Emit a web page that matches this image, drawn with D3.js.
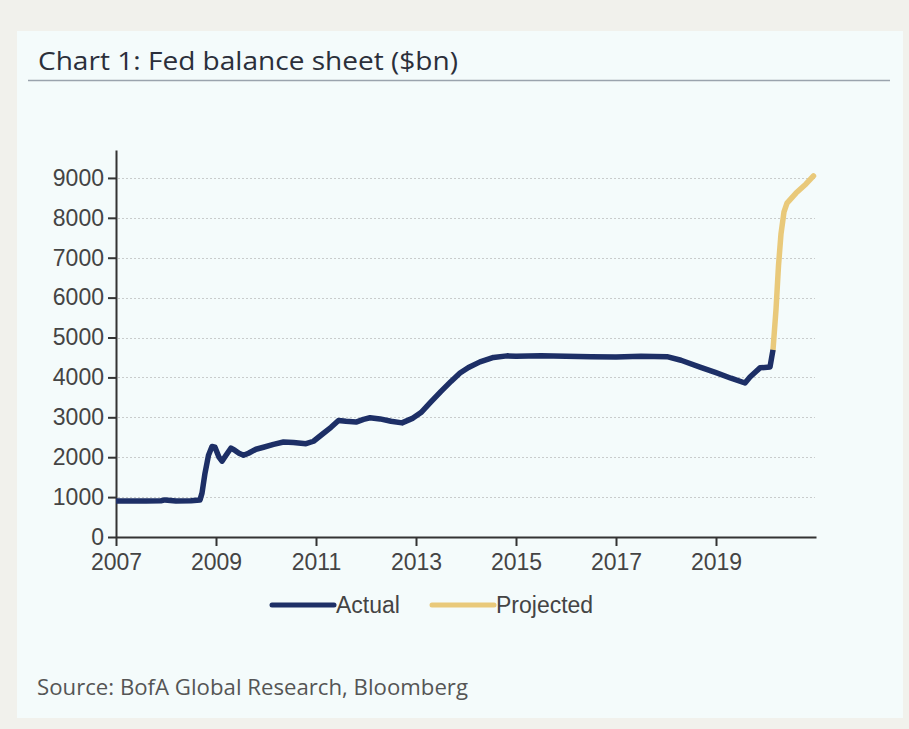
<!DOCTYPE html>
<html>
<head>
<meta charset="utf-8">
<script src="https://cdn.jsdelivr.net/npm/d3@7"></script>
<style>
  html, body { margin: 0; padding: 0; background: #f1f1ec; }
  svg { display: block; }
</style>
</head>
<body>
<script>
// Fed balance sheet, $bn, by decimal year
const actualYears = [2007.00, 2007.30, 2007.60, 2007.90, 2007.98, 2008.20, 2008.50, 2008.68, 2008.72, 2008.78, 2008.85, 2008.92, 2008.98,
  2009.06, 2009.12, 2009.20, 2009.30, 2009.38, 2009.46, 2009.55, 2009.65, 2009.80, 2009.95, 2010.15, 2010.35, 2010.55, 2010.80,
  2010.95, 2011.10, 2011.30, 2011.45, 2011.60, 2011.80, 2011.95, 2012.08, 2012.28, 2012.50, 2012.72, 2012.94, 2013.10,
  2013.28, 2013.50, 2013.70, 2013.88, 2014.05, 2014.28, 2014.55, 2014.82, 2015.00, 2015.50, 2016.00, 2016.50, 2017.00, 2017.50, 2018.02,
  2018.30, 2018.68, 2019.00, 2019.30, 2019.58, 2019.68, 2019.80, 2019.88, 2020.08, 2020.14];
const actualValues = [900, 905, 900, 910, 930, 900, 910, 930, 1100, 1600, 2050, 2270, 2250,
  2000, 1900, 2050, 2230, 2170, 2100, 2050, 2100, 2200, 2250, 2320, 2380, 2370, 2340,
  2400, 2550, 2750, 2920, 2900, 2880, 2950, 2990, 2960, 2900, 2860, 2980, 3120,
  3360, 3650, 3900, 4110, 4250, 4390, 4500, 4540, 4530, 4540, 4530, 4520, 4510, 4530, 4520,
  4430, 4260, 4120, 3980, 3860, 4010, 4150, 4240, 4260, 4690];
const projectedYears = [2020.14, 2020.20, 2020.25, 2020.30, 2020.36, 2020.42, 2020.60, 2020.80, 2020.95];
const projectedValues = [4690, 5700, 6800, 7600, 8150, 8370, 8620, 8850, 9050];

const yTicks = [0, 1000, 2000, 3000, 4000, 5000, 6000, 7000, 8000, 9000];
const xTicks = [2007, 2009, 2011, 2013, 2015, 2017, 2019];
const seriesNames = ["Actual", "Projected"];
const seriesColors = ["#1d2f66", "#e9c97a"];

const W = 909, H = 729;
const svg = d3.select("body").append("svg").attr("width", W).attr("height", H);

// page and panel backgrounds
svg.append("rect").attr("width", W).attr("height", H).attr("fill", "#f1f1ec");
svg.append("rect").attr("x", 17).attr("y", 31).attr("width", 886).attr("height", 687).attr("fill", "#f4fbfb");

// title and rule
svg.append("text").attr("x", 38).attr("y", 70)
  .attr("font-family", "'Open Sans', 'Noto Sans', sans-serif").attr("font-size", 25)
  .attr("fill", "#2b2f3a").attr("textLength", 420).attr("lengthAdjust", "spacingAndGlyphs")
  .text("Chart 1: Fed balance sheet ($bn)");
svg.append("line").attr("x1", 28).attr("x2", 890).attr("y1", 80.5).attr("y2", 80.5)
  .attr("stroke", "#9aa3ad").attr("stroke-width", 1.5);

const x = d3.scaleLinear().domain([2007, 2021]).range([116, 816]);
const y = d3.scaleLinear().domain([0, 9700]).range([537, 150]);

const tickFont = "'Liberation Sans Narrow', 'Arial Narrow', 'Liberation Sans', Arial, sans-serif";

// gridlines
svg.append("g").selectAll("line").data(yTicks.filter(d => d > 0)).join("line")
  .attr("x1", 118).attr("x2", 815)
  .attr("y1", d => Math.round(y(d)) + 0.5).attr("y2", d => Math.round(y(d)) + 0.5)
  .attr("stroke", "#c9cccc").attr("stroke-width", 1).attr("stroke-dasharray", "2,2");

// y axis
const yAxis = svg.append("g").attr("transform", "translate(116,0)")
  .call(d3.axisLeft(y).tickValues(yTicks).tickFormat(d3.format("d"))
    .tickSizeInner(8).tickSizeOuter(0).tickPadding(4));
yAxis.select(".domain").attr("stroke", "#333").attr("stroke-width", 2);
yAxis.selectAll(".tick line").attr("stroke", "#333").attr("stroke-width", 2);
yAxis.selectAll(".tick text").attr("font-family", tickFont).attr("font-size", 23).attr("fill", "#444");

// x axis
const xAxis = svg.append("g").attr("transform", "translate(0,537)")
  .call(d3.axisBottom(x).tickValues(xTicks).tickFormat(d3.format("d"))
    .tickSizeInner(9).tickSizeOuter(0).tickPadding(8));
xAxis.select(".domain").attr("stroke", "#333").attr("stroke-width", 2);
xAxis.selectAll(".tick line").attr("stroke", "#333").attr("stroke-width", 2);
xAxis.selectAll(".tick text").attr("font-family", tickFont).attr("font-size", 23).attr("fill", "#444");

// series lines
const line = d3.line().x(d => x(d[0])).y(d => y(d[1])).curve(d3.curveLinear);
const projected = d3.zip(projectedYears, projectedValues);
const actual = d3.zip(actualYears, actualValues);
svg.append("path").datum(projected).attr("d", line).attr("fill", "none")
  .attr("stroke", seriesColors[1]).attr("stroke-width", 5.5).attr("stroke-linejoin", "round").attr("stroke-linecap", "round");
svg.append("path").datum(actual).attr("d", line).attr("fill", "none")
  .attr("stroke", seriesColors[0]).attr("stroke-width", 5.5).attr("stroke-linejoin", "round");

// legend
const legendX = [272, 432];
const lg = svg.append("g").selectAll("g").data(seriesNames).join("g")
  .attr("transform", (d, i) => `translate(${legendX[i]},605)`);
lg.append("line").attr("x1", 0).attr("x2", 62).attr("y1", 0).attr("y2", 0)
  .attr("stroke", (d, i) => seriesColors[i]).attr("stroke-width", 5).attr("stroke-linecap", "round");
lg.append("text").attr("x", 64).attr("y", 8)
  .attr("font-family", tickFont).attr("font-size", 23).attr("fill", "#444")
  .text(d => d);

// source note
svg.append("text").attr("x", 37).attr("y", 695)
  .attr("font-family", "'Open Sans', 'Noto Sans', sans-serif").attr("font-size", 21)
  .attr("fill", "#555").attr("textLength", 431).attr("lengthAdjust", "spacingAndGlyphs")
  .text("Source: BofA Global Research, Bloomberg");
</script>
</body>
</html>
